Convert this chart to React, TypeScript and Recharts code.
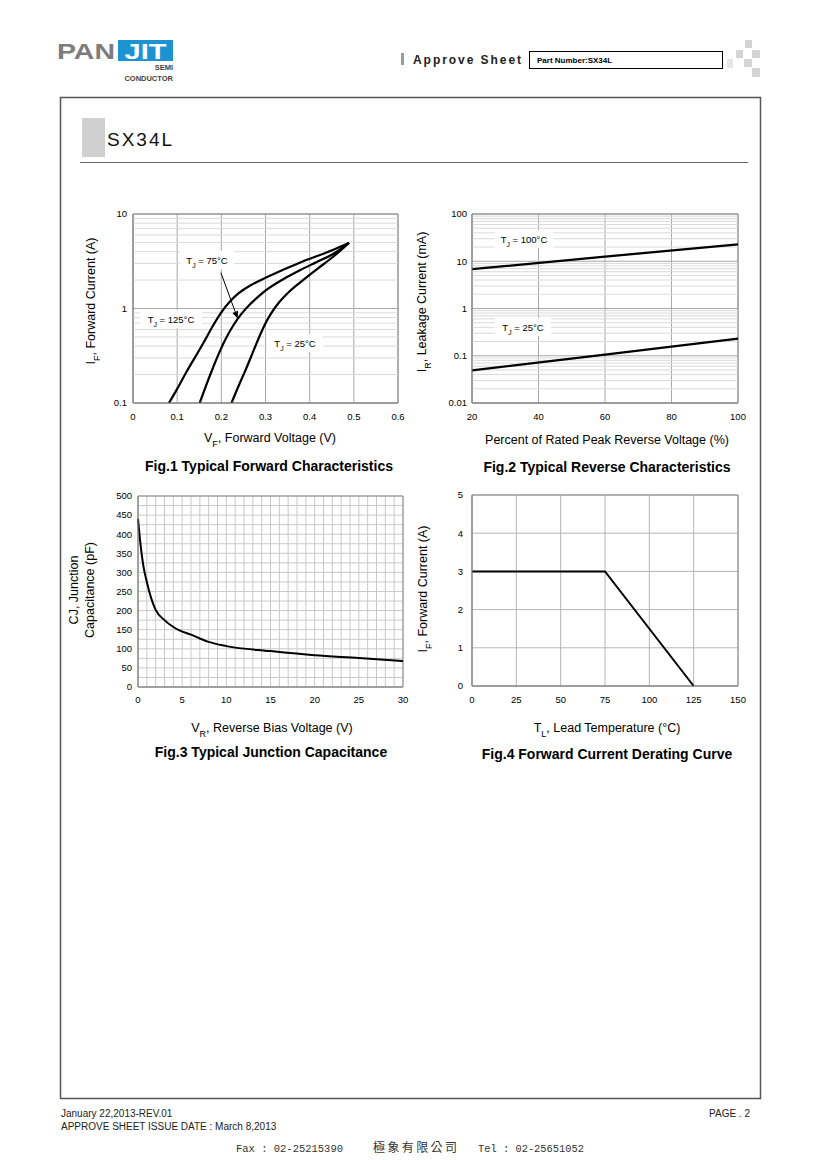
import React from 'react'
import {
  LineChart,
  Line,
  XAxis,
  YAxis,
  CartesianGrid,
  ReferenceLine,
  ReferenceArea,
} from 'recharts'

const FONT = '"Liberation Sans", Arial, sans-serif'

// Fig.1 forward characteristics: VF (V) -> IF (A)
const fwd125 = [
  { v: 0.0815, i: 0.1 },
  { v: 0.1, i: 0.141 },
  { v: 0.12, i: 0.209 },
  { v: 0.14, i: 0.302 },
  { v: 0.16, i: 0.437 },
  { v: 0.18, i: 0.646 },
  { v: 0.2, i: 0.912 },
  { v: 0.22, i: 1.19 },
  { v: 0.24, i: 1.46 },
  { v: 0.27, i: 1.8 },
  { v: 0.3, i: 2.11 },
  { v: 0.34, i: 2.57 },
  { v: 0.38, i: 3.09 },
  { v: 0.42, i: 3.63 },
  { v: 0.455, i: 4.22 },
  { v: 0.489, i: 4.95 },
]
const fwd75 = [
  { v: 0.151, i: 0.1 },
  { v: 0.165, i: 0.151 },
  { v: 0.18, i: 0.229 },
  { v: 0.195, i: 0.339 },
  { v: 0.21, i: 0.479 },
  { v: 0.227, i: 0.661 },
  { v: 0.245, i: 0.871 },
  { v: 0.265, i: 1.11 },
  { v: 0.285, i: 1.35 },
  { v: 0.302, i: 1.57 },
  { v: 0.34, i: 2.04 },
  { v: 0.378, i: 2.54 },
  { v: 0.415, i: 3.09 },
  { v: 0.454, i: 3.8 },
  { v: 0.489, i: 4.95 },
]
const fwd25 = [
  { v: 0.223, i: 0.1 },
  { v: 0.24, i: 0.155 },
  { v: 0.255, i: 0.224 },
  { v: 0.27, i: 0.331 },
  { v: 0.285, i: 0.49 },
  { v: 0.3, i: 0.7 },
  { v: 0.315, i: 0.92 },
  { v: 0.33, i: 1.15 },
  { v: 0.35, i: 1.45 },
  { v: 0.378, i: 1.88 },
  { v: 0.416, i: 2.6 },
  { v: 0.454, i: 3.55 },
  { v: 0.489, i: 4.95 },
]
const fwdTicksX = [0, 0.1, 0.2, 0.3, 0.4, 0.5, 0.6]
const fwdTicksY = [0.1, 1, 10]
// arrow pointing at the 75°C curve
const fwdArrow = [{ x: 0.199, y: 2.39 }, { x: 0.237, y: 0.785 }]

// Fig.2 reverse characteristics: % of VRRM -> IR (mA)
const rev100 = [{ p: 20, i: 6.8 }, { p: 60, i: 12.5 }, { p: 100, i: 22.8 }]
const rev25 = [{ p: 20, i: 0.049 }, { p: 60, i: 0.106 }, { p: 100, i: 0.23 }]
const revTicksX = [20, 40, 60, 80, 100]
const revTicksY = [0.01, 0.1, 1, 10, 100]

// Fig.3 junction capacitance: VR (V) -> CJ (pF)
const cap = [
  { v: 0, c: 440 },
  { v: 0.3, c: 370 },
  { v: 0.6, c: 318 },
  { v: 1, c: 275 },
  { v: 1.5, c: 232 },
  { v: 2, c: 202 },
  { v: 3, c: 175 },
  { v: 4, c: 157 },
  { v: 4.7, c: 148 },
  { v: 6, c: 137 },
  { v: 7, c: 127 },
  { v: 8, c: 118 },
  { v: 10, c: 107 },
  { v: 15, c: 94 },
  { v: 20, c: 83 },
  { v: 25, c: 76 },
  { v: 30, c: 68 },
]
const capTicksX = Array.from({ length: 31 }, (_, k) => k)
const capTicksY = Array.from({ length: 21 }, (_, k) => k * 25)

// Fig.4 derating: TL (°C) -> IF (A)
const derate = [{ t: 0, i: 3 }, { t: 75, i: 3 }, { t: 125, i: 0 }]
const derTicksX = [0, 25, 50, 75, 100, 125, 150]
const derTicksY = [0, 1, 2, 3, 4, 5]

const MAJOR = '#a8a8a8'
const MINOR = '#dadada'
const BORDER = '#8a8a8a'

// minor log grid values (2..9 per decade)
function decadeMinors(lo: number, hi: number) {
  const out: number[] = []
  for (let d = lo; d < hi * 0.99; d = +(d * 10).toPrecision(3)) {
    for (let k = 2; k <= 9; k++) out.push(+(d * k).toPrecision(3))
  }
  return out
}

type Plot = { x: number; y: number; w: number; h: number }
const P1: Plot = { x: 133, y: 214, w: 265, h: 189 }
const P2: Plot = { x: 472, y: 214, w: 266, h: 189 }
const P3: Plot = { x: 138, y: 496, w: 265, h: 191 }
const P4: Plot = { x: 472, y: 495, w: 266, h: 191 }

const M = { top: 8, right: 10, bottom: 2, left: 2 }
const YW = 40
const XH = 30

function box(p: Plot): React.CSSProperties {
  return { position: 'absolute', left: p.x - YW - M.left, top: p.y - M.top }
}
const cw = (p: Plot) => p.w + YW + M.left + M.right
const ch = (p: Plot) => p.h + M.top + M.bottom + XH

const tick = { fill: '#000', fontSize: 9.5 }

function ArrowShape(props: any) {
  const { x1, y1, x2, y2 } = props
  if (x1 == null || x2 == null) return null
  const a = Math.atan2(y2 - y1, x2 - x1)
  const L = 7
  const W = 3
  const bx = x2 - L * Math.cos(a)
  const by = y2 - L * Math.sin(a)
  const px = -Math.sin(a) * W
  const py = Math.cos(a) * W
  return (
    <g>
      <line x1={x1} y1={y1} x2={bx} y2={by} stroke="#000" strokeWidth={1} />
      <polygon points={`${x2},${y2} ${bx + px},${by + py} ${bx - px},${by - py}`} fill="#000" />
    </g>
  )
}

function Fig1() {
  return (
    <div style={box(P1)}>
      <LineChart width={cw(P1)} height={ch(P1)} margin={M}>
        <CartesianGrid stroke={MAJOR} />
        {decadeMinors(0.1, 10).map((v) => (
          <ReferenceLine key={v} y={v} stroke={MINOR} ifOverflow="hidden" />
        ))}
        <XAxis type="number" dataKey="v" domain={[0, 0.6]} ticks={fwdTicksX} height={XH}
          tick={tick} tickLine={false} tickSize={0} tickMargin={10} axisLine={{ stroke: BORDER }} allowDataOverflow />
        <YAxis type="number" scale="log" domain={[0.1, 10]} ticks={fwdTicksY} width={YW}
          tick={tick} tickLine={false} tickSize={0} tickMargin={6} axisLine={{ stroke: BORDER }}
          tickFormatter={(v) => String(v)} allowDataOverflow />
        <ReferenceArea x1={0} x2={0.6} y1={0.1} y2={10} fill="none" stroke={BORDER} />
        <Line data={fwd125} dataKey="i" type="monotone" stroke="#000" strokeWidth={2.2} dot={false} isAnimationActive={false} />
        <Line data={fwd75} dataKey="i" type="monotone" stroke="#000" strokeWidth={2.2} dot={false} isAnimationActive={false} />
        <Line data={fwd25} dataKey="i" type="monotone" stroke="#000" strokeWidth={2.2} dot={false} isAnimationActive={false} />
        <ReferenceLine segment={fwdArrow} shape={ArrowShape} ifOverflow="visible" />
      </LineChart>
    </div>
  )
}

function Fig2() {
  return (
    <div style={box(P2)}>
      <LineChart width={cw(P2)} height={ch(P2)} margin={M}>
        <CartesianGrid stroke={MAJOR} />
        {decadeMinors(0.01, 100).map((v) => (
          <ReferenceLine key={v} y={v} stroke={MINOR} ifOverflow="hidden" />
        ))}
        <XAxis type="number" dataKey="p" domain={[20, 100]} ticks={revTicksX} height={XH}
          tick={tick} tickLine={false} tickSize={0} tickMargin={10} axisLine={{ stroke: BORDER }} />
        <YAxis type="number" scale="log" domain={[0.01, 100]} ticks={revTicksY} width={YW}
          tick={tick} tickLine={false} tickSize={0} tickMargin={5} axisLine={{ stroke: BORDER }}
          tickFormatter={(v) => String(v)} allowDataOverflow />
        <ReferenceArea x1={20} x2={100} y1={0.01} y2={100} fill="none" stroke={BORDER} />
        <Line data={rev100} dataKey="i" type="linear" stroke="#000" strokeWidth={2.2} dot={false} isAnimationActive={false} />
        <Line data={rev25} dataKey="i" type="linear" stroke="#000" strokeWidth={2.2} dot={false} isAnimationActive={false} />
      </LineChart>
    </div>
  )
}

function Fig3() {
  return (
    <div style={box(P3)}>
      <LineChart width={cw(P3)} height={ch(P3)} margin={M}>
        <CartesianGrid stroke="#c9c9c9" />
        <XAxis type="number" dataKey="v" domain={[0, 30]} ticks={capTicksX} interval={0} height={XH}
          tick={tick} tickLine={false} tickSize={0} tickMargin={9} axisLine={{ stroke: BORDER }}
          tickFormatter={(v) => (v % 5 === 0 ? String(v) : '')} />
        <YAxis type="number" domain={[0, 500]} ticks={capTicksY} interval={0} width={YW}
          tick={tick} tickLine={false} tickSize={0} tickMargin={6} axisLine={{ stroke: BORDER }}
          tickFormatter={(v) => (v % 50 === 0 ? String(v) : '')} />
        <ReferenceArea x1={0} x2={30} y1={0} y2={500} fill="none" stroke={BORDER} />
        <Line data={cap} dataKey="c" type="monotone" stroke="#000" strokeWidth={2} dot={false} isAnimationActive={false} />
      </LineChart>
    </div>
  )
}

function Fig4() {
  return (
    <div style={box(P4)}>
      <LineChart width={cw(P4)} height={ch(P4)} margin={M}>
        <CartesianGrid stroke="#b5b5b5" />
        <XAxis type="number" dataKey="t" domain={[0, 150]} ticks={derTicksX} height={XH}
          tick={tick} tickLine={false} tickSize={0} tickMargin={10} axisLine={{ stroke: BORDER }} />
        <YAxis type="number" domain={[0, 5]} ticks={derTicksY} width={YW}
          tick={tick} tickLine={false} tickSize={0} tickMargin={9} axisLine={{ stroke: BORDER }} />
        <ReferenceArea x1={0} x2={150} y1={0} y2={5} fill="none" stroke={BORDER} />
        <Line data={derate} dataKey="i" type="linear" stroke="#000" strokeWidth={2} dot={false} isAnimationActive={false} />
      </LineChart>
    </div>
  )
}

function Sub({ children }: { children: React.ReactNode }) {
  return (
    <tspan baselineShift="sub" fontSize="0.72em">
      {children}
    </tspan>
  )
}

function Tag({ cx, cy, w, temp }: { cx: number; cy: number; w: number; temp: string }) {
  return (
    <g>
      <rect x={cx - w / 2} y={cy - 9} width={w} height={18} fill="#fff" />
      <text x={cx} y={cy + 3.5} textAnchor="middle" fontSize={9.5} fill="#000">
        T<Sub>J</Sub>
        <tspan> = {temp}</tspan>
      </text>
    </g>
  )
}

function VLabel({ x, y, children }: { x: number; y: number; children: React.ReactNode }) {
  return (
    <text transform={`translate(${x},${y}) rotate(-90)`} y={4.5} textAnchor="middle" fontSize={12.5} fill="#000">
      {children}
    </text>
  )
}

function Overlay() {
  return (
    <svg width={820} height={1160} style={{ position: 'absolute', left: 0, top: 0, pointerEvents: 'none' }} fontFamily={FONT}>
      {/* header */}
      <text x={57} y={59} fontSize={22} fontWeight={700} fill="#7d7d7d" textLength={58} lengthAdjust="spacingAndGlyphs">PAN</text>
      <rect x={118} y={40} width={55} height={21} fill="#1e93d2" />
      <text x={145.5} y={59} fontSize={22} fontWeight={700} fill="#fff" textAnchor="middle" textLength={42} lengthAdjust="spacingAndGlyphs">JIT</text>
      <text x={173} y={70} fontSize={7.5} fontWeight={700} fill="#444" textAnchor="end">SEMI</text>
      <text x={173} y={81} fontSize={7.5} fontWeight={700} fill="#444" textAnchor="end">CONDUCTOR</text>
      <rect x={401} y={53} width={3} height={12} fill="#9a9a9a" />
      <text x={413} y={64} fontSize={12} fontWeight={700} fill="#222" textLength={108} lengthAdjust="spacing">Approve Sheet</text>
      <rect x={529.5} y={51.5} width={193} height={17} fill="none" stroke="#000" />
      <text x={537} y={63} fontSize={8} fontWeight={700} fill="#000">Part Number:SX34L</text>
      <g fill="#d4d4d4">
        <rect x={745} y={40} width={7} height={8} />
        <rect x={736} y={50} width={7} height={8} />
        <rect x={752} y={50} width={8} height={8} />
        <rect x={727} y={59} width={6} height={9} fill="#e6e6e6" />
        <rect x={744} y={59} width={8} height={8} />
        <rect x={752} y={68} width={8} height={9} />
      </g>

      {/* frame */}
      <rect x={60.5} y={97.5} width={700} height={1001} fill="none" stroke="#555" strokeWidth={1.5} />
      <rect x={82} y={118} width={23} height={39} fill="#d0d0d0" />
      <text x={107} y={146} fontSize={19} fill="#111" letterSpacing={2}>SX34L</text>
      <line x1={80} y1={162.5} x2={748} y2={162.5} stroke="#666" />

      {/* fig 1 */}
      <Tag cx={207} cy={260} w={54} temp="75°C" />
      <Tag cx={171} cy={319} w={62} temp="125°C" />
      <Tag cx={295} cy={343} w={56} temp="25°C" />
      <VLabel x={90} y={301}>I<Sub>F</Sub><tspan>, Forward Current (A)</tspan></VLabel>
      <text x={270} y={442} textAnchor="middle" fontSize={12.5}>V<Sub>F</Sub><tspan>, Forward Voltage (V)</tspan></text>
      <text x={269} y={471} textAnchor="middle" fontSize={14} fontWeight={700}>Fig.1 Typical Forward Characteristics</text>

      {/* fig 2 */}
      <Tag cx={524} cy={239} w={58} temp="100°C" />
      <Tag cx={523} cy={327} w={56} temp="25°C" />
      <VLabel x={421} y={302}>I<Sub>R</Sub><tspan>, Leakage Current (mA)</tspan></VLabel>
      <text x={607} y={444} textAnchor="middle" fontSize={12.5}>Percent of Rated Peak Reverse Voltage (%)</text>
      <text x={607} y={472} textAnchor="middle" fontSize={14} fontWeight={700}>Fig.2 Typical Reverse Characteristics</text>

      {/* fig 3 */}
      <VLabel x={73} y={590}>CJ, Junction</VLabel>
      <VLabel x={89} y={590}>Capacitance (pF)</VLabel>
      <text x={272} y={732} textAnchor="middle" fontSize={12.5}>V<Sub>R</Sub><tspan>, Reverse Bias Voltage (V)</tspan></text>
      <text x={271} y={757} textAnchor="middle" fontSize={14} fontWeight={700}>Fig.3 Typical Junction Capacitance</text>

      {/* fig 4 */}
      <VLabel x={422} y={589}>I<Sub>F</Sub><tspan>, Forward Current (A)</tspan></VLabel>
      <text x={607} y={732} textAnchor="middle" fontSize={12.5}>T<Sub>L</Sub><tspan>, Lead Temperature  (°C)</tspan></text>
      <text x={607} y={759} textAnchor="middle" fontSize={14} fontWeight={700}>Fig.4 Forward Current Derating Curve</text>

      {/* footer */}
      <text x={61} y={1117} fontSize={10} fill="#222">January 22,2013-REV.01</text>
      <text x={61} y={1130} fontSize={10} fill="#222">APPROVE SHEET ISSUE DATE : March 8,2013</text>
      <text x={750} y={1117} fontSize={10} fill="#222" textAnchor="end">PAGE . 2</text>
      <text x={236} y={1152} fontSize={11} fill="#333" fontFamily='"Liberation Mono", monospace' textLength={107} lengthAdjust="spacingAndGlyphs">Fax : 02-25215390</text>
      <text x={373} y={1152} fontSize={12} fill="#333" fontFamily='"Noto Sans CJK TC", sans-serif' textLength={84} lengthAdjust="spacing">極象有限公司</text>
      <text x={478} y={1152} fontSize={11} fill="#333" fontFamily='"Liberation Mono", monospace' textLength={106} lengthAdjust="spacingAndGlyphs">Tel : 02-25651052</text>
    </svg>
  )
}

export default function App() {
  return (
    <div style={{ position: 'absolute', left: 0, top: 0, width: 820, height: 1160, background: '#fff', fontFamily: FONT, overflow: 'hidden' }}>
      <Fig1 />
      <Fig2 />
      <Fig3 />
      <Fig4 />
      <Overlay />
    </div>
  )
}
